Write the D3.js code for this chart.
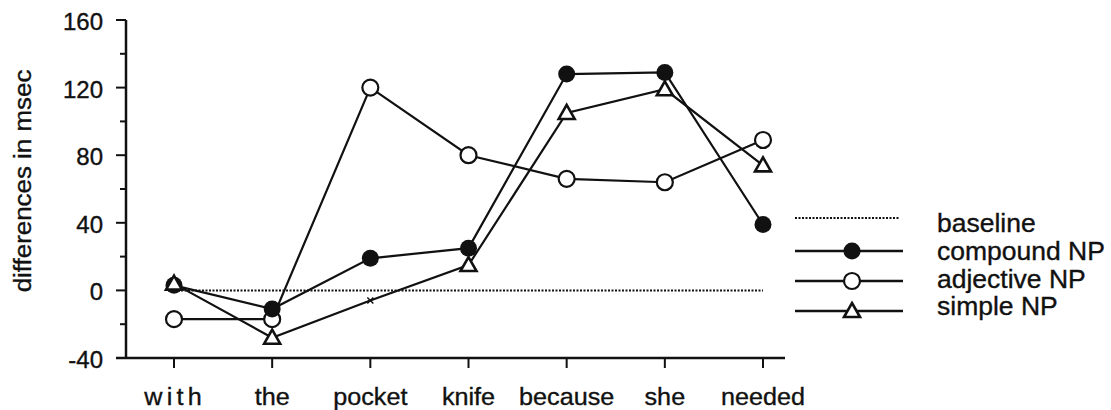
<!DOCTYPE html>
<html><head><meta charset="utf-8">
<script src="https://cdn.jsdelivr.net/npm/d3@7"></script>
<style>body{margin:0;background:#fff}svg{display:block}text{font-family:"Liberation Sans",Arial,sans-serif;fill:#111;stroke:#111;stroke-width:0.35px}</style>
</head><body><svg id="c" width="1111" height="410"></svg>
<script>
const categories = ["with","the","pocket","knife","because","she","needed"];
const compoundNP = [3,-11,19,25,128,129,39];
const adjectiveNP = [-17,-17,120,80,66,64,89];
const simpleNP = [4,-28,-6,15,105,119,74];
const baseline = [0,0,0,0,0,0,0];
const yTicks = [-40,0,40,80,120,160];
const yMinorTicks = [-20,20,60,100,140];
const legendLabels = ["baseline","compound NP","adjective NP","simple NP"];

const svg = d3.select("#c");
const x = d3.scalePoint().domain(categories).range([174,763]);
const y = d3.scaleLinear().domain([-40,160]).range([358,20]);
const ink = "#111";

// y axis
const yAxis = svg.append("g").attr("transform","translate(126,0)");
yAxis.append("line").attr("x1",0).attr("x2",0).attr("y1",y(160)).attr("y2",y(-40)).attr("stroke",ink).attr("stroke-width",2.5);
yAxis.selectAll(".mj").data(yTicks).join("line").attr("x1",-10).attr("x2",0).attr("y1",d=>y(d)).attr("y2",d=>y(d)).attr("stroke",ink).attr("stroke-width",2);
yAxis.selectAll(".mn").data(yMinorTicks).join("line").attr("x1",-6).attr("x2",0).attr("y1",d=>y(d)).attr("y2",d=>y(d)).attr("stroke",ink).attr("stroke-width",2);
yAxis.selectAll("text").data(yTicks).join("text").attr("x",-23).attr("y",d=>y(d)+10).attr("text-anchor","end").attr("font-size",24).text(d=>d);

// x axis
const xAxis = svg.append("g");
xAxis.append("line").attr("x1",116).attr("x2",785).attr("y1",y(-40)).attr("y2",y(-40)).attr("stroke",ink).attr("stroke-width",2.5);
xAxis.selectAll(".t").data(categories).join("line").attr("x1",d=>x(d)).attr("x2",d=>x(d)).attr("y1",y(-40)).attr("y2",y(-40)+10).attr("stroke",ink).attr("stroke-width",2);
xAxis.selectAll("text").data(categories).join("text")
  .attr("transform",d=>`translate(${x(d)},405) scale(1.05,1)`)
  .attr("text-anchor","middle").attr("font-size",24)
  .attr("dx",d=>d==="with"?1:0)
  .attr("letter-spacing",d=>d==="with"?"4px":"0px").text(d=>d);

// y label
svg.append("text").attr("transform","translate(31,181) rotate(-90) scale(1.08,1)").attr("text-anchor","middle").attr("font-size",24).text("differences in msec");

const line = d3.line().x((d,i)=>x(categories[i])).y(d=>y(d));
// baseline
svg.append("path").attr("d",line(baseline)).attr("fill","none").attr("stroke",ink).attr("stroke-width",2).attr("stroke-dasharray","2,1.5");

const seriesList = [
  {vals: adjectiveNP, marker: "open"},
  {vals: compoundNP, marker: "filled"},
  {vals: simpleNP, marker: "triangle"}
];
seriesList.forEach(s=>{
  svg.append("path").attr("d",line(s.vals)).attr("fill","none").attr("stroke",ink).attr("stroke-width",2.2);
});
seriesList.forEach(s=>{
  const g = svg.append("g");
  s.vals.forEach((v,i)=>{
    drawMarker(g, s.marker, x(categories[i]), y(v), !(s.marker==="triangle" && i===2));
  });
});
function drawMarker(g, marker, cx, cy, full){
  if(marker==="filled") g.append("circle").attr("cx",cx).attr("cy",cy).attr("r",8.5).attr("fill",ink);
  else if(marker==="open") g.append("circle").attr("cx",cx).attr("cy",cy).attr("r",8).attr("fill","#fff").attr("stroke",ink).attr("stroke-width",2.2);
  else if(full){
    const s=8;
    g.append("path").attr("d",`M${cx},${cy-s}L${cx+s},${cy+s*0.75}L${cx-s},${cy+s*0.75}Z`).attr("fill","#fff").attr("stroke",ink).attr("stroke-width",2.6);
  } else {
    g.append("path").attr("d",`M${cx-3},${cy-3}L${cx+3},${cy+3}M${cx-3},${cy+3}L${cx+3},${cy-3}`).attr("stroke",ink).attr("stroke-width",1.5);
  }
}

// legend
const legY = [218,251,281,311];
const legTextY = [232,260,288,315];
const leg = svg.append("g");
leg.append("line").attr("x1",795).attr("x2",900).attr("y1",legY[0]).attr("y2",legY[0]).attr("stroke",ink).attr("stroke-width",2).attr("stroke-dasharray","2,1.5");
["filled","open","triangle"].forEach((m,i)=>{
  leg.append("line").attr("x1",795).attr("x2",903).attr("y1",legY[i+1]).attr("y2",legY[i+1]).attr("stroke",ink).attr("stroke-width",2.5);
  drawMarker(leg,m,852,legY[i+1],true);
});
leg.selectAll("text").data(legendLabels).join("text")
  .attr("transform",(d,i)=>`translate(937,${legTextY[i]}) scale(1.06,1)`)
  .attr("font-size",25).text(d=>d);
</script></body></html>
